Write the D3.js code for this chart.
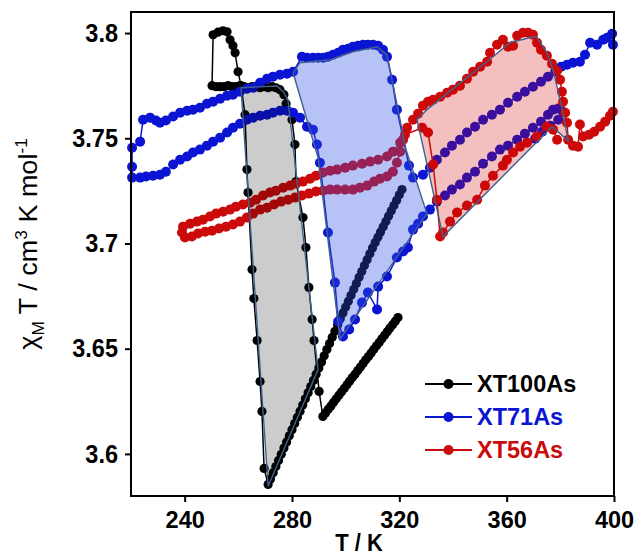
<!DOCTYPE html>
<html>
<head>
<meta charset="utf-8">
<script src="https://cdn.jsdelivr.net/npm/d3@7"></script>
<style>
body { margin: 0; background: #fff; }
text { font-family: "Liberation Sans", Arial, sans-serif; }
</style>
</head>
<body>
<div id="chart"></div>
<script>
// axes
var xTicks = [240, 280, 320, 360, 400];
var yTicks = [3.6, 3.65, 3.7, 3.75, 3.8];
var seriesNames = ["XT100As", "XT71As", "XT56As"];
var seriesColors = ["#000000", "#0a14d2", "#cc0a0a"];

// XT100As  [T (K), chiT]
var blackData = [
  [319.5,3.6648],[318.5,3.6631],[317.5,3.6614],[316.5,3.6598],[315.5,3.6581],[314.5,3.6564],[313.5,3.6547],
  [312.5,3.6530],[311.5,3.6514],[310.5,3.6497],[309.5,3.6480],[308.5,3.6463],[307.5,3.6447],[306.5,3.6430],
  [305.5,3.6413],[304.5,3.6396],[303.5,3.6379],[302.5,3.6363],[301.5,3.6346],[300.5,3.6329],[299.5,3.6312],
  [298.5,3.6295],[297.5,3.6279],[296.5,3.6262],[295.5,3.6245],[294.5,3.6228],[293.5,3.6212],[292.5,3.6195],
  [291.5,3.6178],[290.1,3.6297],
  [288.2,3.6539],[287.5,3.6639],[286.3,3.6791],[285.2,3.6981],[284.1,3.7123],[281.5,3.7294],[281.1,3.7470],
  [280.0,3.7588],[278.5,3.7631],[277.8,3.7664],[277.0,3.7707],[275.5,3.7731],[274.0,3.7740],
  [272.6,3.7745],[271.1,3.7740],[269.6,3.7745],[268.1,3.7740],[266.6,3.7745],[265.1,3.7745],[263.6,3.7740],
  [262.1,3.7745],[260.6,3.7750],[259.1,3.7745],[257.6,3.7745],[256.2,3.7750],[254.7,3.7745],[253.2,3.7745],
  [251.7,3.7745],[250.2,3.7750],
  [250.6,3.7992],[252.4,3.8004],[254.3,3.8011],[255.8,3.8006],[256.9,3.7968],[258.0,3.7940],[258.8,3.7906],
  [259.9,3.7816],[261.0,3.7750],
  [262.5,3.7612],[263.2,3.7351],[263.6,3.7242],[265.1,3.6876],[265.8,3.6738],[267.0,3.6539],[268.1,3.6344],
  [268.8,3.6202],[269.6,3.5931],[271.1,3.5855],
  [272,3.5881],[273,3.5911],[274,3.5940],[275,3.5969],[276,3.5998],[277,3.6028],[278,3.6057],[279,3.6086],
  [280,3.6115],[281,3.6145],[282,3.6174],[283,3.6203],[284,3.6232],[285,3.6262],[286,3.6291],[287,3.6320],
  [288,3.6349],[289,3.6379],[290,3.6408],[291,3.6437],[292,3.6466],[293,3.6496],[294,3.6525],[295,3.6554],
  [296,3.6583],[297,3.6613],[298,3.6642],[299,3.6670],[300,3.6698],[301,3.6726],[302,3.6754],[303,3.6782],
  [304,3.6810],[305,3.6839],[306,3.6867],[307,3.6895],[308,3.6923],[309,3.6951],[310,3.6979],[311,3.7005],
  [312,3.7030],[313,3.7055],[314,3.7080],[315,3.7105],[316,3.7130],[317,3.7155],[318,3.7180],[319,3.7205],
  [320,3.7231],[321,3.7256]
];

// XT71As
var blueData = [
  [399.6,3.7944],[399.3,3.7997],[397.4,3.7978],[396.0,3.7968],[393.7,3.7944],[391.1,3.7954],[389.2,3.7897],
  [387.3,3.7864],[384.7,3.7859],[382.5,3.7849],[380.3,3.7840],[378.1,3.7816],
  [375.4,3.7792],[372.8,3.7769],[369.8,3.7745],[366.8,3.7721],[363.9,3.7697],[360.5,3.7669],[357.5,3.7636],
  [354.5,3.7612],[351.2,3.7588],[348.2,3.7555],[345.2,3.7527],[342.6,3.7493],[339.6,3.7465],[337.0,3.7432],
  [334.0,3.7398],[331.4,3.7360],
  [328.8,3.7327],[325.1,3.7313],[323.6,3.7370],[319.1,3.7636],[317.3,3.7778],[315.4,3.7887],[313.9,3.7921],
  [312.1,3.7940],[310.2,3.7944],[308.3,3.7944],[306.5,3.7944],[304.6,3.7940],[302.7,3.7935],[300.9,3.7925],
  [299.0,3.7921],[297.2,3.7906],[295.3,3.7897],[293.4,3.7887],[291.6,3.7883],[289.7,3.7883],[287.8,3.7883],
  [285.6,3.7883],[283.7,3.7887],
  [280.4,3.7816],[278.1,3.7807],[275.5,3.7802],[272.9,3.7792],[270.7,3.7783],[268.1,3.7764],[265.5,3.7740],
  [263.2,3.7735],[260.6,3.7721],[258.0,3.7707],[255.8,3.7702],[253.2,3.7688],[250.6,3.7674],[248.3,3.7664],
  [245.7,3.7645],[243.1,3.7636],[240.9,3.7631],[238.3,3.7621],[235.7,3.7603],[233.0,3.7584],[230.8,3.7574],
  [229.3,3.7584],[227.1,3.7598],[224.5,3.7588],[223.4,3.7484],[220.4,3.7455],[220.4,3.7365],[220.4,3.7313],
  [223.4,3.7313],[225.6,3.7318],[228.2,3.7322],[230.8,3.7327],[233.0,3.7341],[235.7,3.7375],[238.3,3.7398],
  [240.9,3.7413],[243.1,3.7432],[245.7,3.7446],[248.3,3.7465],[250.6,3.7484],[253.2,3.7503],[255.8,3.7527],
  [258.0,3.7550],[260.6,3.7569],[263.2,3.7588],[265.5,3.7598],[268.1,3.7607],[270.7,3.7612],[272.9,3.7621],
  [275.5,3.7631],[278.1,3.7631],[280.4,3.7621],[283.0,3.7598],[285.6,3.7555],[287.8,3.7541],[289.3,3.7470],
  [290.4,3.7384],[293.4,3.7052],[296.0,3.6814],[297.2,3.6629],[299.0,3.6558],[301.3,3.6591],[303.5,3.6639],
  [306.1,3.6719],[308.3,3.6767],[311.7,3.6686],[312.1,3.6795],[315.4,3.6843],[319.1,3.6933],[321.4,3.6962],
  [323.2,3.6981],[325.1,3.7066],[327.0,3.7094],[328.8,3.7128],[331.4,3.7161],
  [334.0,3.7199],[337.0,3.7228],[339.6,3.7256],[342.6,3.7280],[345.2,3.7313],[348.2,3.7341],[351.2,3.7379],
  [354.5,3.7413],[357.5,3.7446],[360.5,3.7465],[363.9,3.7493],[366.8,3.7522],[369.8,3.7550],[372.8,3.7579],
  [375.4,3.7612],[377.3,3.7636],[379.2,3.7641],[381.0,3.7626],[379.2,3.7588],[376.2,3.7560],[373.2,3.7531],
  [370.6,3.7498]
];

// XT56As
var redData = [
  [378.8,3.7493],[377.3,3.7541],[375.0,3.7555],[371.3,3.7508],[367.6,3.7479],[365.0,3.7460],[362.4,3.7432],
  [360.1,3.7398],[358.6,3.7370],[354.9,3.7322],[351.9,3.7275],[349.0,3.7208],[345.2,3.7180],[341.5,3.7147],
  [338.9,3.7104],[336.3,3.7052],[335.2,3.7033],
  [334.0,3.7208],[332.6,3.7375],[330.7,3.7527],[328.5,3.7550],
  [322.1,3.7517],[320.3,3.7479],[317.6,3.7436],[315.4,3.7413],[312.1,3.7398],[309.1,3.7389],[306.1,3.7379],
  [302.7,3.7370],[299.8,3.7360],[296.8,3.7351],[294.2,3.7346],[291.6,3.7337],[288.9,3.7322],[286.7,3.7308],
  [284.1,3.7294],[281.5,3.7284],[279.3,3.7275],[276.7,3.7265],[274.0,3.7251],[271.8,3.7242],[269.2,3.7228],
  [266.6,3.7208],[264.4,3.7194],[261.7,3.7185],[259.1,3.7175],[256.9,3.7161],[254.3,3.7151],[251.7,3.7142],
  [249.4,3.7128],[246.8,3.7113],[244.6,3.7104],[242.0,3.7094],[239.4,3.7080],
  [239.0,3.7052],[240.1,3.7028],
  [242.7,3.7033],[245.0,3.7047],[247.6,3.7056],[250.2,3.7061],[252.8,3.7071],[255.4,3.7080],[258.0,3.7090],
  [260.6,3.7104],[263.2,3.7123],[265.5,3.7142],[268.1,3.7161],[270.7,3.7170],[273.3,3.7185],[275.9,3.7199],
  [278.5,3.7208],[281.1,3.7218],[283.7,3.7228],[286.3,3.7237],[288.9,3.7247],[291.6,3.7251],[294.2,3.7256],
  [296.8,3.7256],[299.8,3.7256],[302.7,3.7256],[305.3,3.7265],[308.0,3.7275],[310.6,3.7294],[312.8,3.7308],
  [315.4,3.7318],[317.6,3.7341],[319.1,3.7384],[320.3,3.7436],[321.4,3.7493],
  [322.9,3.7550],[325.1,3.7588],[327.0,3.7617],[328.8,3.7655],[330.7,3.7674],[332.6,3.7683],[335.2,3.7697],
  [337.8,3.7716],[340.0,3.7731],[342.6,3.7750],[345.2,3.7783],[347.5,3.7816],[350.1,3.7840],[352.7,3.7864],
  [353.8,3.7906],[356.4,3.7944],[358.6,3.7968],[360.5,3.7935],[362.4,3.7940],[363.9,3.7987],[366.1,3.8001],
  [368.0,3.8001],[369.8,3.7992],[371.3,3.7954],[372.8,3.7921],[375.0,3.7892],[376.9,3.7854],[378.8,3.7821],
  [379.9,3.7778],[380.6,3.7721],[381.0,3.7674],[381.8,3.7621],[382.5,3.7574],[382.9,3.7493],
  [384.7,3.7465],[386.6,3.7460],[387.3,3.7565],[388.5,3.7508],[390.7,3.7517],[392.6,3.7531],[394.8,3.7555],
  [396.7,3.7579],[398.5,3.7607],[399.6,3.7626]
];

// hysteresis areas
var grayLoop = [[261.0,3.7740],[274.4,3.7748],[276.7,3.7721],[278.5,3.7683],[289.7,3.6401],[271.1,3.5846]];
var blueLoop = [[280.4,3.7811],[283.0,3.7859],[294.2,3.7873],[302.7,3.7911],[311.7,3.7935],[315.4,3.7897],
  [322.5,3.7446],[330.3,3.7142],[297.9,3.6544],[289.7,3.7408]];
var pinkLoop = [[326.6,3.7588],[330.3,3.7636],[354.9,3.7887],[361.2,3.7954],[369.8,3.7982],[371.3,3.7978],
  [375.0,3.7906],[377.3,3.7826],[381.0,3.7621],[382.9,3.7489],[376.9,3.7555],[336.3,3.7033]];

var W = 640, H = 555;
var margin = {top: 12, right: 26, bottom: 59, left: 131},
    width = W - margin.left - margin.right,
    height = H - margin.top - margin.bottom;

var svg = d3.select("#chart").append("svg")
    .attr("width", W).attr("height", H)
  .append("g")
    .attr("transform", "translate(" + margin.left + "," + margin.top + ")");

var x = d3.scaleLinear().domain([220, 400]).range([0, width]);
var y = d3.scaleLinear().domain([3.58, 3.81]).range([height, 0]);

var line = d3.line().x(function(d) { return x(d[0]); }).y(function(d) { return y(d[1]); });

function drawSeries(pts, color, r) {
  svg.append("path").datum(pts)
    .attr("fill", "none").attr("stroke", color).attr("stroke-width", 1.5)
    .attr("d", line);
  svg.append("g").selectAll("circle").data(pts).enter().append("circle")
    .attr("cx", function(d) { return x(d[0]); })
    .attr("cy", function(d) { return y(d[1]); })
    .attr("r", r).attr("fill", color);
}

drawSeries(blackData, seriesColors[0], 4.6);
drawSeries(blueData, seriesColors[1], 5);
drawSeries(redData, seriesColors[2], 5);

// shaded loops go over the points (semi transparent)
function drawLoop(pts, fill, op) {
  svg.append("path").datum(pts)
    .attr("d", function(d) { return line(d) + "Z"; })
    .attr("fill", fill).attr("fill-opacity", op)
    .attr("stroke", "#41608e").attr("stroke-width", 1.4);
}
drawLoop(grayLoop, "#000000", 0.2);
drawLoop(blueLoop, "#3050e8", 0.35);
drawLoop(pinkLoop, "#d00000", 0.25);

// axes
var xAxis = svg.append("g")
    .attr("transform", "translate(0," + height + ")")
    .call(d3.axisBottom(x).tickValues(xTicks).tickSize(6).tickPadding(9).tickSizeOuter(0));
var yAxis = svg.append("g")
    .call(d3.axisLeft(y).tickValues(yTicks).tickSize(6).tickPadding(7).tickSizeOuter(0)
      .tickFormat(function(d) { return String(+d.toFixed(2)); }));

[xAxis, yAxis].forEach(function(a) {
  a.select(".domain").remove();
  a.selectAll("line").attr("stroke", "#000").attr("stroke-width", 2);
  a.selectAll("text").attr("fill", "#000")
    .style("font-size", "23.5px").style("font-weight", "bold")
    .style("font-family", "'Liberation Sans', Arial, sans-serif");
});
// the original figure is a little taller than wide
yAxis.selectAll("text").attr("transform", "scale(1,1.1)");

svg.append("rect")
  .attr("x", 0).attr("y", 0).attr("width", width).attr("height", height)
  .attr("fill", "none").attr("stroke", "#000").attr("stroke-width", 2);

// axis titles
svg.append("text")
  .attr("transform", "translate(228," + (height + 55) + ") scale(1,1.1)")
  .attr("text-anchor", "middle")
  .style("font-size", "22px").style("font-weight", "bold")
  .text("T / K");

var yl = svg.append("text")
  .attr("transform", "translate(-94,232) rotate(-90) scale(1.08,1)")
  .attr("text-anchor", "middle")
  .style("font-size", "25px").style("white-space", "pre");
yl.append("tspan").text("\u03c7");
yl.append("tspan").attr("dy", 7).style("font-size", "16px").text("M");
yl.append("tspan").attr("dy", -7).text(" T / cm");
yl.append("tspan").attr("dy", -10).style("font-size", "16px").text("3");
yl.append("tspan").attr("dy", 10).text(" K mol");
yl.append("tspan").attr("dy", -10).style("font-size", "16px").text("-1");

// legend
var leg = svg.append("g").attr("transform", "translate(294,372)");
seriesNames.forEach(function(name, i) {
  var g = leg.append("g").attr("transform", "translate(0," + (i * 33) + ")");
  g.append("line").attr("x1", 0).attr("x2", 47).attr("y1", 0).attr("y2", 0)
    .attr("stroke", seriesColors[i]).attr("stroke-width", 2);
  g.append("circle").attr("cx", 23.5).attr("cy", 0).attr("r", 5).attr("fill", seriesColors[i]);
  g.append("text").attr("transform", "translate(52,8) scale(1,1.05)")
    .style("font-size", "23.5px").style("font-weight", "bold")
    .attr("fill", seriesColors[i]).text(name);
});
</script>
</body>
</html>
